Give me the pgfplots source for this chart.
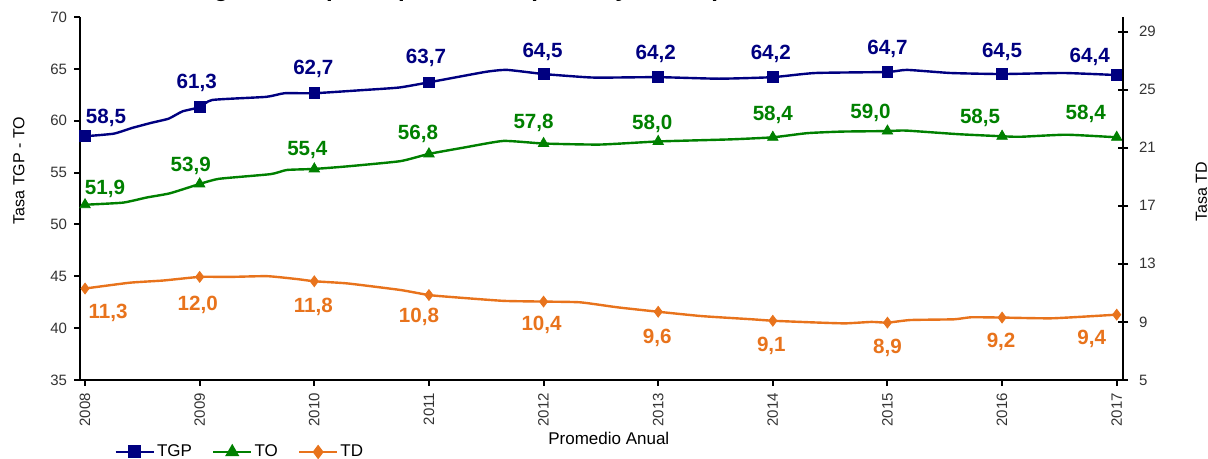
\documentclass[border=0pt]{standalone}
\usepackage{fontspec}
\setmainfont{Liberation Sans}
\usepackage{pgfplots}
\pgfplotsset{compat=1.18}
\usepackage{pgfplotstable}
\definecolor{cTGP}{HTML}{000080}
\definecolor{cTO}{HTML}{008000}
\definecolor{cTD}{HTML}{E8731C}

\pgfplotstableread{
x y lab dx dy
2008 58.5 58.5 10.5 9
2009 61.3 61.3 -1.5 12
2010 62.65 62.7 -0.5 12
2011 63.7 63.7 -1.5 12
2012 64.5 64.5 -0.5 11.25
2013 64.2 64.2 -1.25 11.7
2014 64.2 64.2 -1 11.5
2015 64.7 64.7 0 11.35
2016 64.5 64.5 0 11
2017 64.4 64.4 -13.5 9.25
}\tgpm

\pgfplotstableread{
x y lab dx dy
2008 51.9 51.9 10 7.75
2009 53.9 53.9 -4.5 9.25
2010 55.35 55.4 -3.5 9.5
2011 56.8 56.8 -5.5 10
2012 57.8 57.8 -5 10.5
2013 58.0 58.0 -3 9
2014 58.4 58.4 0 11
2015 59.0 59.0 -8.5 9
2016 58.5 58.5 -11 9.25
2017 58.4 58.4 -15.5 11.75
}\tom

\pgfplotstableread{
x y lab dx dy
2008 11.3 11.3 11.5 -12.25
2009 12.1 12.0 -1 -14
2010 11.8 11.8 -0.5 -12.75
2011 10.85 10.8 -5 -11
2012 10.4 10.4 -1 -11.75
2013 9.7 9.6 -0.5 -13.25
2014 9.08 9.1 -0.75 -12.75
2015 8.95 8.9 0 -12.75
2016 9.3 9.2 -0.5 -12
2017 9.5 9.4 -12.5 -12.25
}\tdm

\pgfplotsset{
  labstyle/.style={
    point meta=\thisrow{lab},
    visualization depends on={\thisrow{dx}\as\dx},
    visualization depends on={\thisrow{dy}\as\dy},
    nodes near coords={\pgfmathprintnumber[fixed,fixed zerofill,precision=1,use comma,assume math mode=true]{\pgfplotspointmeta}},
    every node near coord/.append style={anchor=center, xshift=\dx pt, yshift=\dy pt, font=\bfseries\fontsize{10.3}{12}\selectfont, text=#1, inner sep=0pt},
  },
}

\begin{document}
\begin{tikzpicture}
\begin{axis}[
  scale only axis, width=521.5pt, height=181.5pt,
  xmin=2007.956, xmax=2017.055,
  ymin=35, ymax=70, ytick={35,40,...,70},
  xtick={2008,2009,...,2017},
  xticklabels={2008,2009,2010,2011,2012,2013,2014,2015,2016,2017},
  axis y line*=left, axis x line*=bottom,
  axis line style={line width=1.2pt,-},
  tick style={black, line width=1pt},
  major tick length=3pt, tick align=outside,
  tick label style={font=\fontsize{7.5}{9}\selectfont, text=black!80},
  /pgf/number format/assume math mode=true,
  x tick label style={rotate=90, anchor=east},
  ylabel={Tasa TGP - TO},
  ylabel style={at={(axis description cs:-0.0585,0.577)}, anchor=center, font=\fontsize{8}{9}\selectfont},
  xlabel={Promedio Anual},
  xlabel style={at={(axis description cs:0.507,0)}, yshift=-29.25pt, anchor=center, font=\fontsize{8.5}{10}\selectfont},
  clip=false,
  legend style={at={(axis description cs:0,0)}, anchor=west, xshift=17pt, yshift=-36pt, draw=none, fill=none, inner sep=0pt, font=\fontsize{8.5}{10}\selectfont, /tikz/every even column/.append style={column sep=9pt}, nodes={inner sep=1pt}},
  legend columns=3,
  legend image code/.code={\draw[mark repeat=2,mark phase=2] plot coordinates {(0pt,0pt) (9.5pt,0pt) (19pt,0pt)};},
]
\addlegendimage{cTGP, line width=1.3pt, mark=square*, mark size=2.6pt}
\addlegendentry{TGP}
\addlegendimage{cTO, line width=1.3pt, mark=triangle*, mark size=2.8pt}
\addlegendentry{TO}
\addlegendimage{cTD, line width=1.3pt, mark=diamond*, mark size=2.6pt}
\addlegendentry{TD}

\addplot[cTGP, line width=1.2pt, smooth, tension=0.3, forget plot] coordinates {
(2008.00,58.5) (2008.25,58.75) (2008.41,59.3) (2008.58,59.8) (2008.73,60.2) (2008.85,60.9)
(2009.00,61.3) (2009.11,62.0) (2009.58,62.3) (2009.74,62.65) (2010.00,62.65) (2010.42,62.95)
(2010.74,63.2) (2011.00,63.7) (2011.49,64.7) (2011.68,64.9) (2012.00,64.5) (2012.36,64.2)
(2012.5,64.15) (2013.00,64.2) (2013.53,64.05) (2014.00,64.2) (2014.37,64.6) (2015.00,64.7)
(2015.17,64.9) (2015.55,64.6) (2016.00,64.5) (2016.54,64.6) (2017.00,64.4)
};
\addplot[cTGP, only marks, mark=square*, mark size=2.7pt, forget plot, labstyle=cTGP] table[x=x,y=y]{\tgpm};

\addplot[cTO, line width=1.2pt, smooth, tension=0.3, forget plot] coordinates {
(2008.00,51.9) (2008.33,52.1) (2008.54,52.6) (2008.74,53.0) (2009.00,53.9) (2009.17,54.4)
(2009.62,54.85) (2009.76,55.25) (2010.00,55.35) (2010.29,55.6) (2010.75,56.1) (2011.00,56.8)
(2011.30,57.4) (2011.65,58.05) (2012.00,57.8) (2012.49,57.7) (2013.00,58.0) (2013.63,58.2)
(2014.00,58.4) (2014.30,58.8) (2014.60,58.95) (2015.00,59.0) (2015.16,59.05) (2015.62,58.7)
(2016.00,58.5) (2016.16,58.45) (2016.56,58.65) (2017.00,58.4)
};
\addplot[cTO, only marks, mark=triangle*, mark size=3pt, forget plot, labstyle=cTO] table[x=x,y=y]{\tom};
\end{axis}

\begin{axis}[
  scale only axis, width=521.5pt, height=181.5pt,
  xmin=2007.956, xmax=2017.055,
  ymin=5, ymax=30, ytick={5,9,...,29},
  axis y line*=right, axis x line=none,
  axis line style={line width=1.2pt,-},
  tick style={black, line width=1pt},
  major tick length=5pt, tick align=center,
  tick label style={font=\fontsize{7.5}{9}\selectfont, text=black!80},
  y tick label style={xshift=2pt},
  /pgf/number format/assume math mode=true,
  ylabel={Tasa TD},
  ylabel style={at={(axis description cs:1.0753,0.519)}, anchor=center, font=\fontsize{8}{9}\selectfont},
  clip=false,
]
\addplot[cTD, line width=1.2pt, smooth, tension=0.3, forget plot] coordinates {
(2008.00,11.3) (2008.39,11.7) (2008.68,11.85) (2009.00,12.1) (2009.27,12.1) (2009.59,12.15)
(2009.85,11.95) (2010.00,11.8) (2010.29,11.65) (2010.75,11.2) (2011.00,10.85) (2011.22,10.7)
(2011.65,10.45) (2012.00,10.4) (2012.32,10.35) (2012.65,10.0) (2013.00,9.7) (2013.38,9.4)
(2013.82,9.18) (2014.00,9.08) (2014.34,8.97) (2014.63,8.9) (2014.86,9.0) (2015.00,8.95)
(2015.20,9.13) (2015.58,9.18) (2015.73,9.32) (2016.00,9.3) (2016.44,9.25) (2017.00,9.5)
};
\addplot[cTD, only marks, mark=diamond*, mark size=2.7pt, forget plot, labstyle=cTD] table[x=x,y=y]{\tdm};
\end{axis}

\node[overlay, anchor=base west, inner sep=0pt, font=\bfseries\fontsize{12}{14}\selectfont] at (37pt,191.9pt) {Tasa global de participación, ocupación y desempleo};

\pgfresetboundingbox
\path[use as bounding box] (-40pt,-39.5pt) rectangle (564pt,190pt);
\end{tikzpicture}
\end{document}
